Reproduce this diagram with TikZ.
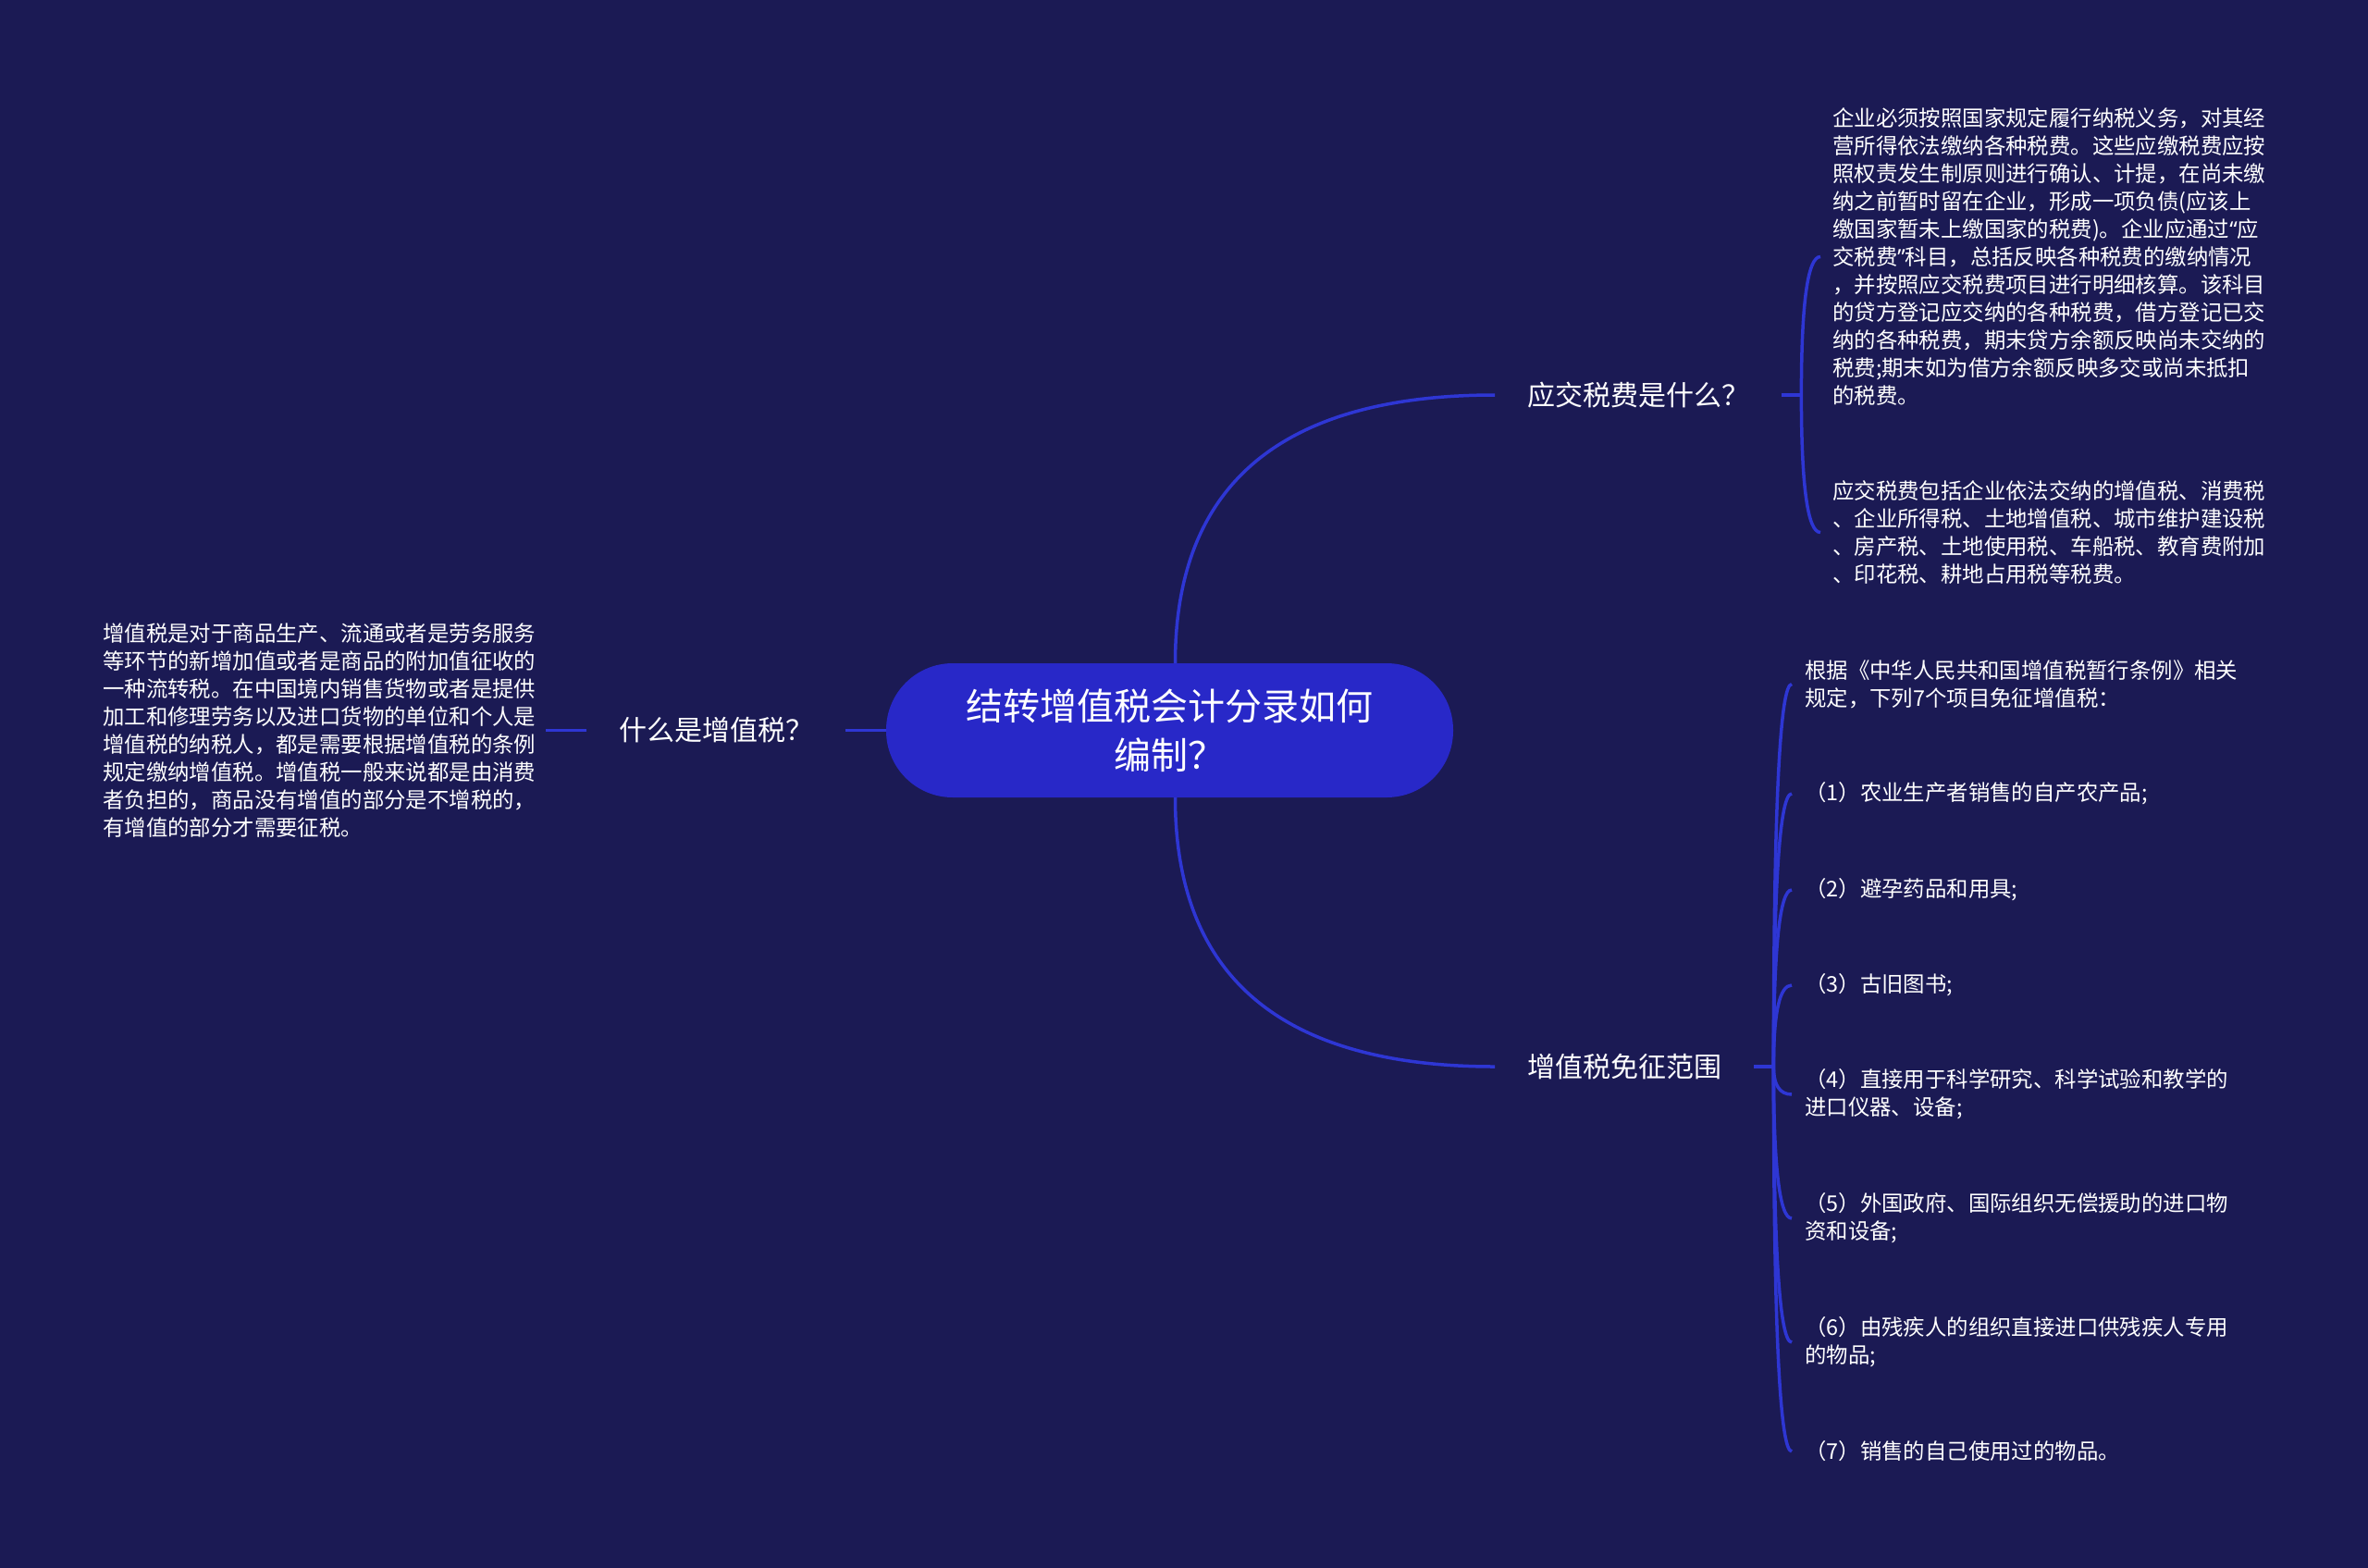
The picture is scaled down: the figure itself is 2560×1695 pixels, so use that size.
\documentclass[tikz,border=0pt]{standalone}
\usepackage{fontspec}
\setmainfont{Noto Sans CJK SC}
\newfontfamily\latinq{Noto Sans}
\usetikzlibrary{calc}
\definecolor{bgc}{RGB}{27,26,84}
\definecolor{rootc}{RGB}{40,40,200}
\definecolor{linkc}{RGB}{46,54,212}
\newcommand\qlink[2]{\draw[link] (#1) .. controls ($(#1)!0.667!(#1 |- #2)$) and ($(#2)!0.667!(#1 |- #2)$) .. (#2);}
\begin{document}
\begin{tikzpicture}[x=1pt,y=-1pt,
 link/.style={draw=linkc,line width=3.5pt},
 rootbox/.style={fill=rootc,rounded corners=72pt,minimum width=613pt,minimum height=145pt,inner sep=0pt,text=white,align=center,font=\fontsize{40}{53}\selectfont},
 branch/.style={text=white,inner xsep=35pt,inner ysep=0pt,font=\fontsize{30}{36}\selectfont},
 leaf/.style={text=white,align=left,inner ysep=0pt,font=\fontsize{23.4}{30}\selectfont}]
\fill[bgc] (0,0) rectangle (2560,1695);
\useasboundingbox (0,0) rectangle (2560,1695);

\node[rootbox] (root) at (1264.5,789.5) {结转增值税会计分录如何\\编制？};
\node[branch,anchor=west] (b1) at (1616,427) {应交税费是什么？};
\node[branch,anchor=west] (b2) at (1616,1153) {增值税免征范围};
\node[branch] (bL) at (774,789.5) {什么是增值税？};

\node[leaf,anchor=west,inner xsep=13pt] (a1) at (1968,277.5) {企业必须按照国家规定履行纳税义务，对其经\\营所得依法缴纳各种税费。这些应缴税费应按\\照权责发生制原则进行确认、计提，在尚未缴\\纳之前暂时留在企业，形成一项负债(应该上\\缴国家暂未上缴国家的税费)。企业应通过{\latinq “}应\\交税费{\latinq ”}科目，总括反映各种税费的缴纳情况\\，并按照应交税费项目进行明细核算。该科目\\的贷方登记应交纳的各种税费，借方登记已交\\纳的各种税费，期末贷方余额反映尚未交纳的\\税费;期末如为借方余额反映多交或尚未抵扣\\的税费。};
\node[leaf,anchor=west,inner xsep=13pt] (a2) at (1968,575.5) {应交税费包括企业依法交纳的增值税、消费税\\、企业所得税、土地增值税、城市维护建设税\\、房产税、土地使用税、车船税、教育费附加\\、印花税、耕地占用税等税费。};

\node[leaf,anchor=west,inner xsep=11pt] (l1) at (100,789.5) {增值税是对于商品生产、流通或者是劳务服务\\等环节的新增加值或者是商品的附加值征收的\\一种流转税。在中国境内销售货物或者是提供\\加工和修理劳务以及进口货物的单位和个人是\\增值税的纳税人，都是需要根据增值税的条例\\规定缴纳增值税。增值税一般来说都是由消费\\者负担的，商品没有增值的部分是不增税的，\\有增值的部分才需要征税。};

\node[leaf,anchor=west,inner xsep=14pt] (c0) at (1937,739.5) {根据《中华人民共和国增值税暂行条例》相关\\规定，下列7个项目免征增值税：};
\node[leaf,anchor=west,inner xsep=14pt] (c1) at (1937,858) {（1）农业生产者销售的自产农产品;};
\node[leaf,anchor=west,inner xsep=14pt] (c2) at (1937,962) {（2）避孕药品和用具;};
\node[leaf,anchor=west,inner xsep=14pt] (c3) at (1937,1065) {（3）古旧图书;};
\node[leaf,anchor=west,inner xsep=14pt] (c4) at (1937,1183) {（4）直接用于科学研究、科学试验和教学的\\进口仪器、设备;};
\node[leaf,anchor=west,inner xsep=14pt] (c5) at (1937,1317) {（5）外国政府、国际组织无偿援助的进口物\\资和设备;};
\node[leaf,anchor=west,inner xsep=14pt] (c6) at (1937,1451) {（6）由残疾人的组织直接进口供残疾人专用\\的物品;};
\node[leaf,anchor=west,inner xsep=14pt] (c7) at (1937,1569) {（7）销售的自己使用过的物品。};

\coordinate (rn) at ([xshift=6pt]root.north);
\coordinate (rs) at ([xshift=6pt]root.south);
\qlink{rn}{b1.west}
\qlink{rs}{b2.west}
\draw[link] (bL.east) -- (root.west);
\draw[link] (l1.east) -- (bL.west);

\coordinate (j1) at ([xshift=21pt]b1.east);
\draw[link] (b1.east) -- (j1);
\qlink{j1}{a1.west}
\qlink{j1}{a2.west}

\coordinate (j2) at ([xshift=21pt]b2.east);
\draw[link] (b2.east) -- (j2);
\qlink{j2}{c0.west}
\qlink{j2}{c1.west}
\qlink{j2}{c2.west}
\qlink{j2}{c3.west}
\qlink{j2}{c4.west}
\qlink{j2}{c5.west}
\qlink{j2}{c6.west}
\qlink{j2}{c7.west}
\end{tikzpicture}
\end{document}
